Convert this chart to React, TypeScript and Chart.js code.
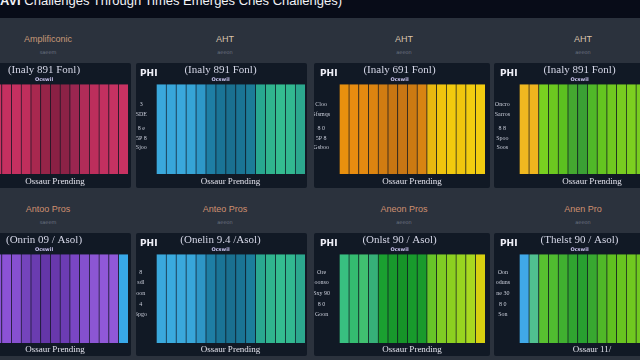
import React, { useEffect, useRef } from "react";
import { Chart, registerables } from "chart.js";

Chart.register(...registerables);

// ---------- data ----------
const mainTitle = "AVI Challenges Through Times Emerges Cries Challenges)";

const categories = ["b1", "b2", "b3", "b4", "b5", "b6", "b7", "b8", "b9", "b10", "b11", "b12", "b13", "b14", "b15"];

const valuesR1C1 = [100, 100, 100, 100, 100, 100, 100, 100, 100, 100, 100, 100, 100, 100, 100];
const valuesR1C2 = [100, 100, 100, 100, 100, 100, 100, 100, 100, 100, 100, 100, 100, 100, 100];
const valuesR1C3 = [100, 100, 100, 100, 100, 100, 100, 100, 100, 100, 100, 100, 100, 100, 100];
const valuesR1C4 = [100, 100, 100, 100, 100, 100, 100, 100, 100, 100, 100, 100, 100, 100, 100];
const valuesR2C1 = [100, 100, 100, 100, 100, 100, 100, 100, 100, 100, 100, 100, 100, 100, 100];
const valuesR2C2 = [100, 100, 100, 100, 100, 100, 100, 100, 100, 100, 100, 100, 100, 100, 100];
const valuesR2C3 = [100, 100, 100, 100, 100, 100, 100, 100, 100, 100, 100, 100, 100, 100, 100];
const valuesR2C4 = [100, 100, 100, 100, 100, 100, 100, 100, 100, 100, 100, 100, 100, 100, 100];

const colorsR1C1 = ["#c83464", "#c63262", "#c43060", "#c43060", "#c02e5c", "#a8284f", "#962448", "#8a2044", "#8c2246", "#9a2650", "#b02c58", "#bc2e5c", "#c23060", "#c63262", "#c83262"];
const colorsR1C2 = ["#3aa8dc", "#38a6da", "#3aa8dc", "#36a4d6", "#2e98c8", "#1e7ea4", "#1a7496", "#1a7090", "#1a7494", "#1c7c98", "#28a890", "#30b48e", "#34bc90", "#32b890", "#2ca88e"];
const colorsR1C3 = ["#e8900e", "#e88c10", "#e48a10", "#dc8410", "#d07c12", "#c87612", "#c87614", "#cc7a12", "#d88412", "#e8b810", "#f0c40e", "#f2ca0e", "#f0c60e", "#f2cc10", "#f2cc10"];
const colorsR1C4 = ["#f0b820", "#f0b41e", "#78d020", "#6cc820", "#5cc020", "#44a830", "#3aa034", "#50b828", "#64c420", "#70c820", "#78cc20", "#7ccf20", "#78cc20", "#74ca20", "#78cc20"];
const colorsR2C1 = ["#8e54d8", "#8c52d6", "#8c52d6", "#8650d0", "#7444bc", "#6a3cb0", "#6436a8", "#6838ac", "#6c3cb4", "#7a46c4", "#8450ce", "#8c56d4", "#9058d8", "#9058d8", "#38a8e8"];
const colorsR2C2 = ["#3aa8dc", "#3aaade", "#3aa8dc", "#38a6da", "#2e96c6", "#1e7ea4", "#1a7496", "#1a7090", "#1a7494", "#1c7e9c", "#2aa890", "#30b48e", "#34bc90", "#32b890", "#2ca88e"];
const colorsR2C3 = ["#38c080", "#34bc70", "#40c070", "#36b078", "#1aa030", "#18982c", "#169428", "#189a2c", "#1a9a2c", "#68c428", "#80cc24", "#8cd020", "#98d420", "#a8d820", "#d8d010"];
const colorsR2C4 = ["#40a8e8", "#50c090", "#58c030", "#50bc30", "#40b030", "#30a430", "#28a030", "#38a830", "#50b828", "#60c020", "#68c420", "#70c820", "#70c820", "#6cc620", "#70c820"];

const tickValuesRow1 = [77, 66, 51, 40, 30];
const tickValuesRow2 = [80, 68, 56, 44, 32];

const tickLabelsR1C1 = ["3", "SDE", "8 e", "5P 8", "Sjoo"];
const tickLabelsR1C2 = ["3", "SDE", "8 e", "5P 8", "Sjoo"];
const tickLabelsR1C3 = ["Cloo", "Sfsmqs", "8 0", "5P 8", "Gsboo"];
const tickLabelsR1C4 = ["Oncro", "Sarros", "8 8", "Spoo", "Soos"];
const tickLabelsR2C1 = ["8", "sdl", "oon", "4", "Spgo"];
const tickLabelsR2C2 = ["8", "sdl", "oon", "4", "Spgo"];
const tickLabelsR2C3 = ["Ore", "oonso", "Sxy 90", "8 0", "Goon"];
const tickLabelsR2C4 = ["Oon", "oduns", "ne 30", "8 0", "Son"];

const headersRow1 = ["Amplificonic", "AHT", "AHT", "AHT"];
const headersRow2 = ["Antoo Pros", "Anteo Pros", "Aneon Pros", "Anen Pro"];
const headerSubs = ["saeem", "aeeon", "aeeon", "aeeon"];

const panelTitlesRow1 = ["(Inaly 891 Fonl)", "(Inaly 891 Fonl)", "(Inaly 691 Fonl)", "(Inaly 891 Fonl)"];
const panelTitlesRow2 = ["(Onrin 09 / Asol)", "(Onelin 9.4 /Asol)", "(Onlst 90 / Asol)", "(Thelst 90 / Asol)"];
const panelSub = "Ocswil";
const xTitlesRow1 = ["Ossaur Prending", "Ossaur Prending", "Ossaur Prending", "Ossaur Prending"];
const xTitlesRow2 = ["Ossaur Prending", "Ossaur Prending", "Ossaur Prending", "Ossaur 11/"];
const cornerLabel = "PHI";

// ---------- layout ----------
const colBoxes = [
  { left: -40, width: 171, padLeft: 22, padRight: 3 },
  { left: 136, width: 171, padLeft: 20, padRight: 2 },
  { left: 314, width: 176, padLeft: 25, padRight: 5 },
  { left: 494, width: 176, padLeft: 25, padRight: 5 },
];
const rowBoxes = [
  { top: 63, height: 125, xAxisH: 14 },
  { top: 233, height: 123, xAxisH: 13 },
];

type PanelProps = {
  left: number; top: number; width: number; height: number;
  padLeft: number; padRight: number; xAxisH: number;
  values: number[]; colors: string[];
  tickValues: number[]; tickLabels: string[];
  title: string; xTitle: string;
};

function Panel(p: PanelProps) {
  const ref = useRef<HTMLCanvasElement | null>(null);
  useEffect(() => {
    if (!ref.current) return;
    const chart = new Chart(ref.current, {
      type: "bar",
      data: {
        labels: categories,
        datasets: [{
          data: p.values,
          backgroundColor: p.colors,
          borderColor: "rgba(0,0,0,0.12)",
          borderWidth: { left: 1, right: 0, top: 0, bottom: 0 } as any,
          borderSkipped: false,
          barPercentage: 1,
          categoryPercentage: 1,
        }],
      },
      options: {
        animation: false,
        responsive: false,
        maintainAspectRatio: false,
        layout: { padding: { left: 0, right: p.padRight, top: 0, bottom: 0 } },
        plugins: {
          legend: { display: false },
          tooltip: { enabled: false },
          title: {
            display: true, text: p.title, color: "#d4d6e6",
            font: { family: "'Liberation Serif', 'DejaVu Serif', serif", size: 11, weight: "normal" },
            padding: { top: 1, bottom: 0 },
          },
          subtitle: {
            display: true, text: panelSub, color: "#c9c4ee",
            font: { family: "'DejaVu Sans', sans-serif", size: 5, weight: "bold" },
            padding: { top: 0, bottom: 1 },
          },
        },
        scales: {
          x: {
            grid: { display: false }, border: { display: false },
            ticks: { display: false },
            afterFit: (s: any) => { s.height = p.xAxisH; },
            title: {
              display: true, text: p.xTitle, color: "#e2e2ec",
              font: { family: "'Liberation Serif', 'DejaVu Serif', serif", size: 9 },
              padding: { top: 1, bottom: 1 },
            },
          },
          y: {
            min: 0, max: 100,
            grid: { display: false }, border: { display: false },
            afterBuildTicks: (s: any) => { s.ticks = p.tickValues.map((v) => ({ value: v })); },
            afterFit: (s: any) => { s.width = p.padLeft; },
            ticks: {
              autoSkip: false,
              crossAlign: "center",
              color: "#c8ccd8",
              font: { family: "'Liberation Serif', serif", size: 6 },
              padding: 1,
              callback: (_v: any, i: number) => p.tickLabels[i] ?? "",
            },
          },
        },
      },
    });
    return () => chart.destroy();
  }, []);
  return (
    <div style={{ position: "absolute", left: p.left, top: p.top, width: p.width, height: p.height, background: "#111925", borderRadius: 2 }}>
      <canvas ref={ref} width={p.width} height={p.height} style={{ display: "block", width: p.width, height: p.height }} />
      <div style={{ position: "absolute", left: p.padLeft > 22 ? 6 : 4, top: 5, color: "#f0f0f8", font: "bold 9px 'DejaVu Sans', sans-serif" }}>{cornerLabel}</div>
    </div>
  );
}

const valuesGrid = [[valuesR1C1, valuesR1C2, valuesR1C3, valuesR1C4], [valuesR2C1, valuesR2C2, valuesR2C3, valuesR2C4]];
const colorsGrid = [[colorsR1C1, colorsR1C2, colorsR1C3, colorsR1C4], [colorsR2C1, colorsR2C2, colorsR2C3, colorsR2C4]];
const labelsGrid = [[tickLabelsR1C1, tickLabelsR1C2, tickLabelsR1C3, tickLabelsR1C4], [tickLabelsR2C1, tickLabelsR2C2, tickLabelsR2C3, tickLabelsR2C4]];
const headerCenters = [48, 225, 404, 583];
const headerTops = [34, 204];

export default function App() {
  return (
    <div style={{ position: "fixed", left: 0, top: 0, width: 640, height: 360, overflow: "hidden", background: "#2b323d" }}>
      <div style={{ position: "absolute", left: 0, top: 0, width: 640, height: 18, background: "#080c18" }} />
      <div style={{ position: "absolute", left: 0, top: -7, whiteSpace: "nowrap", color: "#f2f2f6", font: "13px 'Liberation Sans', Arial, sans-serif" }}>
        <b>AVI</b> {mainTitle.slice(4)}
      </div>
      {[0, 1].map((r) =>
        headerCenters.map((cx, c) => (
          <React.Fragment key={`h${r}${c}`}>
            <div style={{ position: "absolute", left: cx - 60, width: 120, top: headerTops[r], textAlign: "center", color: r === 0 ? (c > 0 ? "#dcc4ac" : "#c99a78") : "#d09070", font: "9px 'Liberation Sans', Arial, sans-serif" }}>
              {r === 0 ? headersRow1[c] : headersRow2[c]}
            </div>
            <div style={{ position: "absolute", left: cx - 60, width: 120, top: headerTops[r] + 15, textAlign: "center", color: "#6c7484", font: "5px 'DejaVu Sans', sans-serif" }}>
              {headerSubs[c]}
            </div>
          </React.Fragment>
        ))
      )}
      {rowBoxes.map((rb, r) =>
        colBoxes.map((cb, c) => (
          <Panel
            key={`p${r}${c}`}
            left={cb.left} top={rb.top} width={cb.width} height={rb.height}
            padLeft={cb.padLeft} padRight={cb.padRight} xAxisH={rb.xAxisH}
            values={valuesGrid[r][c]} colors={colorsGrid[r][c]}
            tickValues={r === 0 ? tickValuesRow1 : tickValuesRow2}
            tickLabels={labelsGrid[r][c]}
            title={r === 0 ? panelTitlesRow1[c] : panelTitlesRow2[c]}
            xTitle={r === 0 ? xTitlesRow1[c] : xTitlesRow2[c]}
          />
        ))
      )}
    </div>
  );
}
